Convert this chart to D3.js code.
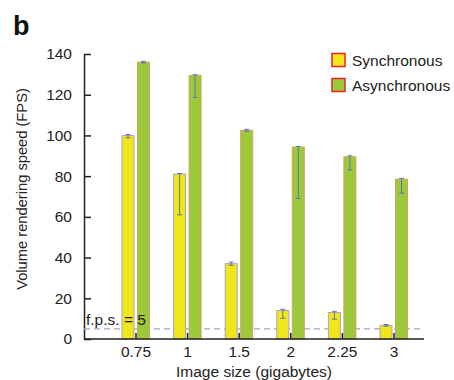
<!DOCTYPE html>
<html>
<head>
<meta charset="utf-8">
<script src="https://cdn.jsdelivr.net/npm/d3@7"></script>
<style>
  body { margin: 0; background: #fff; }
  svg { font-family: "Liberation Sans", Arial, Helvetica, sans-serif; }
</style>
</head>
<body>
<div id="chart"></div>
<script>
// Data
var sizes = ["0.75", "1", "1.5", "2", "2.25", "3"];
var syncFps = [100, 81, 37, 14, 13, 6.7];
var syncLow = [98.8, 61, 36.2, 10.2, 9.7, 6.3];
var syncHigh = [100.5, 81.3, 37.8, 14.6, 13.6, 7.1];
var asyncFps = [136, 129.5, 102.5, 94.3, 89.5, 78.5];
var asyncLow = [135.6, 118.6, 102, 69, 83, 71.6];
var asyncHigh = [136.4, 129.8, 103, 94.6, 90, 78.9];
var yTicks = [0, 20, 40, 60, 80, 100, 120, 140];
var seriesNames = ["Synchronous", "Asynchronous"];

var svgWidth = 454;
var svgHeight = 380;
var fontSize = 15.5;

var svg = d3.select("#chart")
  .append("svg")
  .attr("width", svgWidth)
  .attr("height", svgHeight);

// Scales
var yScale = d3.scaleLinear()
  .domain([0, 140])
  .range([339, 54]);

var xScale = d3.scaleBand()
  .domain(sizes)
  .range([110.2, 419.8]);

var bw = xScale.bandwidth();
var colors = { sync: "#f0e619", async: "#9cc83c" };

// y axis
var leftAxis = d3.axisLeft(yScale)
  .tickValues(yTicks)
  .tickSize(-7)
  .tickSizeOuter(0)
  .tickPadding(12);

var yAxisG = svg.append("g")
  .attr("transform", "translate(84,0)")
  .call(leftAxis);
yAxisG.select(".domain").attr("stroke", "#222").attr("stroke-width", 1.5);
yAxisG.selectAll(".tick line").attr("stroke", "#222").attr("stroke-width", 1.5);
yAxisG.selectAll("text").attr("font-size", fontSize).attr("fill", "#222")
  .attr("font-family", "Liberation Sans, Arial, sans-serif");

// fps = 5 reference line
svg.append("line")
  .attr("x1", 84).attr("x2", 424)
  .attr("y1", yScale(5)).attr("y2", yScale(5))
  .attr("stroke", "#a99dd0")
  .attr("stroke-width", 1.2)
  .attr("stroke-dasharray", "6,4");

// bars
var rows = sizes.map(function(s, i) {
  return { size: s, sync: syncFps[i], sLo: syncLow[i], sHi: syncHigh[i],
           async: asyncFps[i], aLo: asyncLow[i], aHi: asyncHigh[i] };
});

var groups = svg.append("g").selectAll("g")
  .data(rows)
  .enter().append("g")
  .attr("transform", d => `translate(${xScale(d.size) + bw / 2},0)`);

groups.append("rect")
  .attr("x", -14).attr("width", 12)
  .attr("y", d => yScale(d.sync))
  .attr("height", d => yScale(0) - yScale(d.sync))
  .attr("fill", colors.sync)
  .attr("stroke", "#a9a3c4")
  .attr("stroke-width", 1);

groups.append("rect")
  .attr("x", 1.5).attr("width", 12)
  .attr("y", d => yScale(d.async))
  .attr("height", d => yScale(0) - yScale(d.async))
  .attr("fill", colors.async)
  .attr("stroke", "#d7a25e")
  .attr("stroke-width", 1);

// error bars
function errorBar(sel, cx, lo, hi) {
  var eg = sel.append("g").attr("stroke", "#5b78b2").attr("stroke-width", 1);
  eg.append("line").attr("x1", cx).attr("x2", cx)
    .attr("y1", d => yScale(d[lo])).attr("y2", d => yScale(d[hi]));
  eg.append("line").attr("x1", cx - 2.5).attr("x2", cx + 2.5)
    .attr("y1", d => yScale(d[lo])).attr("y2", d => yScale(d[lo]));
  eg.append("line").attr("x1", cx - 2.5).attr("x2", cx + 2.5)
    .attr("y1", d => yScale(d[hi])).attr("y2", d => yScale(d[hi]));
}
errorBar(groups, -8, "sLo", "sHi");
errorBar(groups, 7.5, "aLo", "aHi");

svg.append("text")
  .attr("x", 86).attr("y", 325)
  .attr("font-size", fontSize).attr("fill", "#222")
  .text("f.p.s. = 5");

// x axis
svg.append("line")
  .attr("x1", 84).attr("x2", 424)
  .attr("y1", 339).attr("y2", 339)
  .attr("stroke", "#222").attr("stroke-width", 1.5);

var bottomAxis = d3.axisBottom(xScale)
  .tickSize(-6)
  .tickSizeOuter(0)
  .tickPadding(7);

var xAxisG = svg.append("g")
  .attr("transform", "translate(0,339)")
  .call(bottomAxis);
xAxisG.select(".domain").remove();
xAxisG.selectAll(".tick line").attr("stroke", "#222").attr("stroke-width", 1.5);
xAxisG.selectAll("text").attr("font-size", fontSize).attr("fill", "#222")
  .attr("font-family", "Liberation Sans, Arial, sans-serif");

// axis titles
svg.append("text")
  .attr("x", 254).attr("y", 377)
  .attr("text-anchor", "middle")
  .attr("font-size", fontSize).attr("fill", "#222")
  .text("Image size (gigabytes)");

svg.append("text")
  .attr("transform", "translate(27,189) rotate(-90)")
  .attr("text-anchor", "middle")
  .attr("font-size", 14.7).attr("fill", "#222")
  .text("Volume rendering speed (FPS)");

// panel letter
svg.append("text")
  .attr("x", 13).attr("y", 35)
  .attr("font-size", 27).attr("font-weight", "bold").attr("fill", "#111")
  .text("b");

// legend
var legend = svg.append("g").selectAll("g")
  .data(seriesNames)
  .enter().append("g")
  .attr("transform", (d, i) => `translate(332,${53.5 + i * 25})`);

legend.append("rect")
  .attr("width", 13).attr("height", 13)
  .attr("fill", (d, i) => i === 0 ? colors.sync : colors.async)
  .attr("stroke", "#e8232b").attr("stroke-width", 1.5);

legend.append("text")
  .attr("x", 20).attr("y", 12.5)
  .attr("font-size", fontSize).attr("fill", "#222")
  .text(d => d);
</script>
</body>
</html>
